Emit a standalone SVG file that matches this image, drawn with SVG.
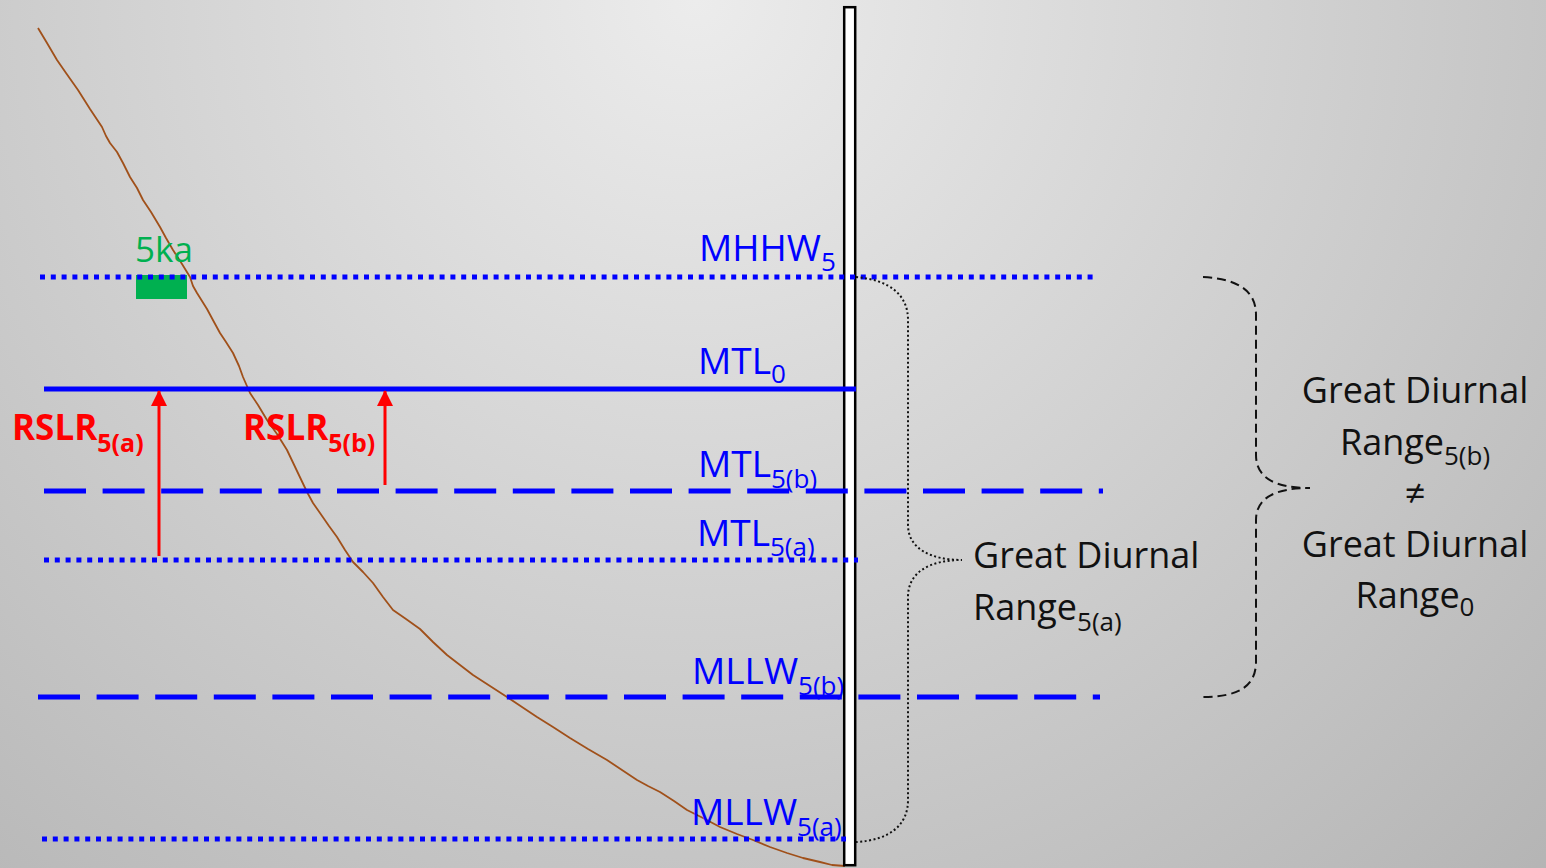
<svg xmlns="http://www.w3.org/2000/svg" width="1546" height="868" viewBox="0 0 1546 868">
<defs>
<radialGradient id="bg" cx="0.45" cy="0" r="1.05" gradientUnits="objectBoundingBox" gradientTransform="translate(0.45 0) scale(1 1.78) translate(-0.45 0)">
<stop offset="0" stop-color="#ececec"/>
<stop offset="1" stop-color="#a2a2a2"/>
</radialGradient>
<marker id="ah" markerUnits="userSpaceOnUse" markerWidth="16" markerHeight="16" viewBox="0 0 16 16" refX="15" refY="8" orient="auto">
<path d="M0,0 L16,8 L0,16 Z" fill="#ff0000"/>
</marker>
<style>
.lvl{fill:none;stroke:#0000ff;stroke-width:5}
.dot{stroke-dasharray:5 5.8}
.dash{stroke-dasharray:42 16.6}
.lbl{font-family:"Open Sans","Noto Sans",sans-serif;font-size:37px;fill:#0000ff}
.sub{font-size:26px}
.red{font-family:"Open Sans","Noto Sans",sans-serif;font-size:35px;font-weight:bold;fill:#ff0000}
.blk{font-family:"Open Sans","Noto Sans",sans-serif;font-size:36px;fill:#111111}
.arr{stroke:#ff0000;stroke-width:3;fill:none;marker-end:url(#ah)}
</style>
</defs>
<rect x="0" y="0" width="1546" height="868" fill="url(#bg)"/>

<g id="curve">
<path d="M38,28 L47,43 L57,60 L66,73 L78,90 L90,109 L102,127 L106,136 L110,143 L117,152 L123,163 L130,177 L137,188 L143,200 L151,212 L160,227 L166,238 L173,250 L182,264 L190,277 L193,286 L197,293 L207,309 L214,322 L220,333 L226,342 L233,353 L239,366 L243,377 L250,393 L258,405 L267,420 L277,434 L287,450 L297,471 L307,492 L313,503 L320,513 L329,526 L337,537 L345,550 L353,562 L363,572 L373,583 L383,597 L393,610 L406,619 L420,629 L433,642 L447,655 L460,665 L473,675 L490,686 L507,697 L522,707 L537,717 L553,727 L570,738 L588,749 L607,760 L622,770 L637,780 L648,786 L660,792 L674,801 L687,810 L703,818 L720,827 L737,834 L753,840 L770,847 L787,853 L803,858 L820,862 L832,865 L845,866" fill="none" stroke="#a0501a" stroke-width="1.8" stroke-linejoin="round"/>
</g>

<g id="pole">
<rect x="844.2" y="7.2" width="11" height="858" fill="#ffffff" stroke="#000000" stroke-width="2.5"/>
</g>

<g id="marker-5ka">
<rect x="136" y="275" width="51" height="24" fill="#00b050"/>
<text x="135" y="262" font-family="'Open Sans','Noto Sans',sans-serif" font-size="35" fill="#00b050">5ka</text>
</g>

<g id="connectors">
<line id="MHHW5-line" class="lvl dot" x1="40" y1="277" x2="1098" y2="277"/>
<line id="MTL0-line" class="lvl" x1="44" y1="389" x2="856" y2="389"/>
<line id="MTL5b-line" class="lvl dash" x1="44" y1="491" x2="1103" y2="491"/>
<line id="MTL5a-line" class="lvl dot" x1="44" y1="560" x2="858" y2="560"/>
<line id="MLLW5b-line" class="lvl dash" x1="38" y1="697" x2="1100" y2="697"/>
<line id="MLLW5a-line" class="lvl dot" x1="42" y1="839" x2="846" y2="839"/>
<line class="arr" x1="159" y1="556" x2="159" y2="391"/>
<line class="arr" x1="385" y1="485" x2="385" y2="391"/>
<path id="brace-a" d="M856,277 C890,280 908,295 908,320 L908,525 C908,548 930,560 962,560 C930,560 908,572 908,597 L908,800 C908,825 890,840 856,842" fill="none" stroke="#111111" stroke-width="2" stroke-dasharray="2 2.5"/>
<path id="brace-b" d="M1203,277 C1240,279 1256,292 1256,315 L1256,455 C1256,478 1275,488 1310,488 C1275,488 1256,498 1256,520 L1256,662 C1256,685 1240,697 1203,697" fill="none" stroke="#111111" stroke-width="2" stroke-dasharray="9 5"/>
</g>

<g id="MHHW5"><text class="lbl" x="699" y="261">MHHW<tspan class="sub" dy="10">5</tspan></text></g>
<g id="MTL0"><text class="lbl" x="698" y="374">MTL<tspan class="sub" dy="9">0</tspan></text></g>
<g id="MTL5b"><text class="lbl" x="698" y="477">MTL<tspan class="sub" dy="11">5(b)</tspan></text></g>
<g id="MTL5a"><text class="lbl" x="697" y="546">MTL<tspan class="sub" dy="10">5(a)</tspan></text></g>
<g id="MLLW5b"><text class="lbl" x="692" y="684">MLLW<tspan class="sub" dy="11">5(b)</tspan></text></g>
<g id="MLLW5a"><text class="lbl" x="691" y="825">MLLW<tspan class="sub" dy="11">5(a)</tspan></text></g>

<g id="RSLR5a"><text class="red" x="12" y="440">RSLR<tspan font-size="25" dy="12">5(a)</tspan></text></g>
<g id="RSLR5b"><text class="red" x="243" y="440">RSLR<tspan font-size="25" dy="12">5(b)</tspan></text></g>

<g id="GDR5a">
<text class="blk" x="973" y="568">Great Diurnal</text>
<text class="blk" x="973" y="620">Range<tspan class="sub" dy="11">5(a)</tspan></text>
</g>

<g id="GDR-compare">
<text class="blk" x="1415" y="403" text-anchor="middle">Great Diurnal</text>
<text class="blk" x="1415" y="455" text-anchor="middle">Range<tspan class="sub" dy="10">5(b)</tspan></text>
<text class="blk" x="1415" y="506" text-anchor="middle">≠</text>
<text class="blk" x="1415" y="557" text-anchor="middle">Great Diurnal</text>
<text class="blk" x="1415" y="608" text-anchor="middle">Range<tspan class="sub" dy="8">0</tspan></text>
</g>
</svg>
